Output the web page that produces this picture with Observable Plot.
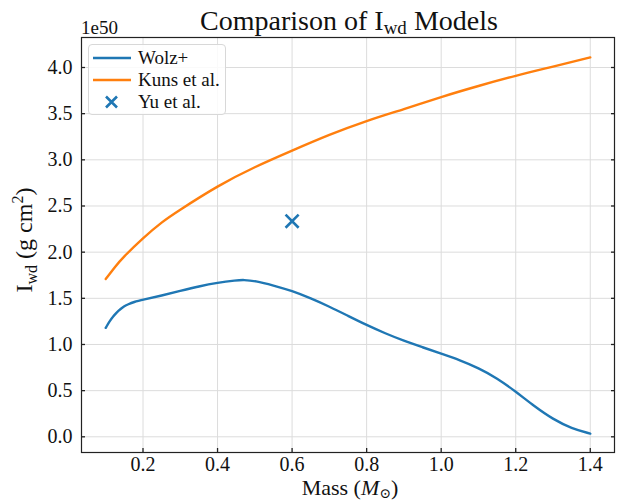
<!DOCTYPE html>
<html>
<head>
<meta charset="utf-8">
<script src="https://cdn.jsdelivr.net/npm/d3@7"></script>
<script src="https://cdn.jsdelivr.net/npm/@observablehq/plot@0.6"></script>
<style>
  html, body { margin: 0; padding: 0; background: #fff; }
  #wrap { position: relative; width: 617px; height: 502px; font-family: "Liberation Serif", "DejaVu Serif", serif; }
  #legend { position: absolute; left: 88px; top: 44px; width: 138px; height: 71px; box-sizing: border-box;
    border: 1px solid #d8d8d8; border-radius: 4px; background: rgba(255,255,255,0.85); font-size: 19px; color: #111; }
  .row { position: absolute; left: 0; height: 22px; display: flex; align-items: center; }
  .row svg { margin-left: 4px; margin-right: 7px; }
</style>
</head>
<body>
<div id="wrap"><div id="chart"></div>
<div id="legend">
  <div class="row" style="top:2px"><svg width="38" height="10"><line x1="0" x2="38" y1="5" y2="5" stroke="#1f77b4" stroke-width="2.4"/></svg>Wolz+</div>
  <div class="row" style="top:24px"><svg width="38" height="10"><line x1="0" x2="38" y1="5" y2="5" stroke="#ff7f0e" stroke-width="2.4"/></svg>Kuns et al.</div>
  <div class="row" style="top:46px"><svg width="38" height="14"><path d="M13,1.5L24,12.5M24,1.5L13,12.5" stroke="#1f77b4" stroke-width="2.6"/></svg>Yu et al.</div>
</div>
</div>
<script>
// Data (values in units of 1e50 g cm^2)
const wolzMass = [0.10,0.11,0.12,0.13,0.14,0.15,0.16,0.175,0.20,0.25,0.30,0.35,0.40,0.45,0.47,0.50,0.55,0.60,0.65,0.70,0.75,0.80,0.85,0.90,0.95,1.00,1.05,1.10,1.15,1.20,1.25,1.30,1.35,1.40];
const wolzI    = [1.18,1.25,1.305,1.35,1.385,1.415,1.435,1.46,1.485,1.53,1.58,1.63,1.67,1.695,1.70,1.69,1.64,1.58,1.50,1.41,1.31,1.21,1.12,1.04,0.97,0.90,0.83,0.745,0.635,0.49,0.33,0.19,0.09,0.035];
const kunsMass = [0.10,0.125,0.15,0.20,0.25,0.30,0.40,0.50,0.60,0.70,0.80,0.90,1.00,1.10,1.20,1.30,1.40];
const kunsI    = [1.71,1.84,1.955,2.15,2.32,2.46,2.71,2.92,3.10,3.27,3.42,3.55,3.68,3.80,3.91,4.01,4.11];
const yuMass = [0.6];
const yuI    = [2.335];
const xTicks = [0.2,0.4,0.6,0.8,1.0,1.2,1.4];
const yTicks = [0.0,0.5,1.0,1.5,2.0,2.5,3.0,3.5,4.0];

const wolz = wolzMass.map((m,i)=>({m, v: wolzI[i]}));
const kuns = kunsMass.map((m,i)=>({m, v: kunsI[i]}));
const yu = yuMass.map((m,i)=>({m, v: yuI[i]}));

const fmt = d3.format(".1f");
const blank = () => "";
const font = "'Liberation Serif', 'DejaVu Serif', serif";

const chart = Plot.plot({
  width: 617, height: 502,
  marginLeft: 81, marginRight: 3, marginTop: 37, marginBottom: 50,
  style: {fontFamily: font, fontSize: "20px", color: "#111", background: "#fff"},
  x: {domain: [0.035, 1.465]},
  y: {domain: [-0.17, 4.325]},
  marks: [
    Plot.gridX(xTicks, {stroke: "#dcdcdc", strokeOpacity: 1}),
    Plot.gridY(yTicks, {stroke: "#dcdcdc", strokeOpacity: 1}),
    Plot.line(wolz, {x: "m", y: "v", stroke: "#1f77b4", strokeWidth: 2.4, curve: "basis"}),
    Plot.line(kuns, {x: "m", y: "v", stroke: "#ff7f0e", strokeWidth: 2.4, curve: "natural"}),
    Plot.dot(yu, {x: "m", y: "v", symbol: "times", r: 6, stroke: "#1f77b4", strokeWidth: 2.6}),
    Plot.frame({stroke: "#222", strokeWidth: 1.2}),
    Plot.axisX(xTicks, {anchor: "bottom", tickSize: 4, dy: -4, tickFormat: blank, label: null, stroke: "#222", strokeWidth: 1.3}),
    Plot.axisY(yTicks, {anchor: "left", tickSize: 4, dx: 4, tickFormat: blank, label: null, stroke: "#222", strokeWidth: 1.3}),
    Plot.axisY(yTicks, {anchor: "right", tickSize: 4, dx: -4, tickFormat: blank, label: null, stroke: "#222", strokeWidth: 1.3}),
    Plot.axisX(xTicks, {anchor: "bottom", tickSize: 0, tickPadding: 4, tickFormat: fmt, label: null, ariaLabel: "xlabels"}),
    Plot.axisY(yTicks, {anchor: "left", tickSize: 0, tickPadding: 9, tickFormat: fmt, label: null, ariaLabel: "ylabels"})
  ]
});
document.getElementById("chart").appendChild(chart);

const svg = d3.select(chart);
// tick label font
svg.selectAll("text").style("font-family", font).style("font-size", "20px").style("fill", "#111");

// Titles and labels
const t = svg.append("text").attr("x", 349).attr("y", 30).attr("text-anchor", "middle")
  .style("font-family", font).style("font-size", "28px").attr("fill", "#111");
t.append("tspan").text("Comparison of I");
t.append("tspan").style("font-size", "19px").attr("dy", 4).text("wd");
t.append("tspan").attr("dy", -4).text(" Models");

svg.append("text").attr("x", 81).attr("y", 34).attr("text-anchor", "start")
  .style("font-family", font).style("font-size", "19px").attr("fill", "#111").text("1e50");

const xl = svg.append("text").attr("x", 350).attr("y", 495).attr("text-anchor", "middle")
  .style("font-family", font).style("font-size", "22px").attr("fill", "#111");
xl.append("tspan").text("Mass (");
xl.append("tspan").style("font-style", "italic").text("M");
xl.append("tspan").style("font-size", "14px").attr("dy", 3).text("⊙");
xl.append("tspan").attr("dy", -3).text(")");

const yl = svg.append("text").attr("transform", "translate(32,240) rotate(-90)").attr("text-anchor", "middle")
  .style("font-family", font).style("font-size", "24px").attr("fill", "#111");
yl.append("tspan").text("I");
yl.append("tspan").style("font-size", "16px").attr("dy", 5).text("wd");
yl.append("tspan").attr("dy", -5).text(" (g cm");
yl.append("tspan").style("font-size", "16px").attr("dy", -9).text("2");
yl.append("tspan").attr("dy", 9).text(")");
</script>
</body>
</html>
